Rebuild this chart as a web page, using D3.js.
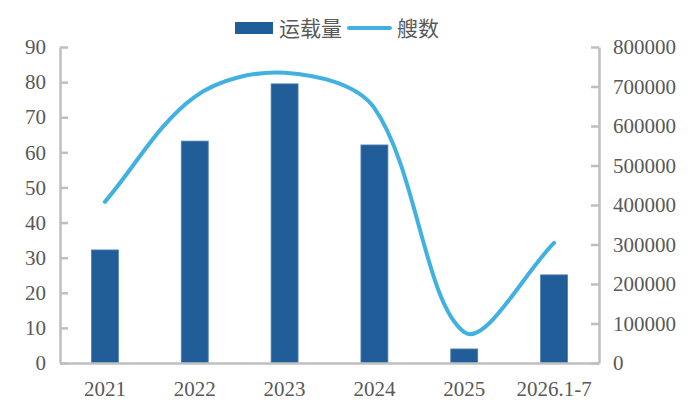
<!DOCTYPE html>
<html>
<head>
<meta charset="utf-8">
<script src="https://cdn.jsdelivr.net/npm/d3@7"></script>
<style>
  body { margin: 0; background: #fff; }
  .tick text { font-family: "Liberation Serif", "Times New Roman", serif; font-size: 21px; fill: #595959; }
  .axis path.domain { stroke: #bfbfbf; stroke-width: 2.5; }
  .axis .tick line { stroke: #bfbfbf; stroke-width: 2.5; }
  .legendText { font-family: "Noto Sans CJK SC", sans-serif; font-size: 21px; fill: #595959; }
</style>
</head>
<body>
<script>
// data
var years = ["2021", "2022", "2023", "2024", "2025", "2026.1-7"];
var volume = [32.2, 63.2, 79.5, 62.1, 4.0, 25.1];        // 运载量 (left axis)
var ships = [408000, 674000, 735000, 645000, 78000, 304000]; // 艘数 (right axis)
var leftTicks = [0, 10, 20, 30, 40, 50, 60, 70, 80, 90];
var rightTicks = [0, 100000, 200000, 300000, 400000, 500000, 600000, 700000, 800000];

var width = 700, height = 415;
var plotLeft = 60, plotRight = 599, plotTop = 47, plotBottom = 363;

var svg = d3.select("body").append("svg")
    .attr("width", width).attr("height", height);

var x = d3.scaleBand().domain(years).range([plotLeft, plotRight]).paddingInner(0.7).paddingOuter(0.35);
var yL = d3.scaleLinear().domain([0, 90]).range([plotBottom, plotTop]);
var yR = d3.scaleLinear().domain([0, 800000]).range([plotBottom, plotTop]);

// bars
svg.selectAll(".bar").data(volume).enter().append("rect")
    .classed("bar", true)
    .attr("x", function(d, i) { return x(years[i]); })
    .attr("y", function(d) { return yL(d); })
    .attr("width", x.bandwidth())
    .attr("height", function(d) { return plotBottom - yL(d); })
    .attr("fill", "#215e99")
    .attr("stroke", "#4d80b6")
    .attr("stroke-width", 0.8);

// axes
svg.append("g").classed("axis", true)
    .attr("transform", "translate(" + plotLeft + ",0)")
    .call(d3.axisLeft(yL).tickValues(leftTicks).tickSize(-8).tickSizeOuter(0).tickPadding(14));

svg.append("g").classed("axis", true)
    .attr("transform", "translate(" + plotRight + ",0)")
    .call(d3.axisRight(yR).tickValues(rightTicks).tickSize(-8).tickSizeOuter(0).tickPadding(14).tickFormat(d3.format("d")));

svg.append("g").classed("axis", true)
    .attr("transform", "translate(0," + plotBottom + ")")
    .call(d3.axisBottom(x).tickSize(0).tickSizeOuter(0).tickPadding(18));

// smooth line, excel style: handles scaled by neighbouring segment lengths
function smoothPath(pts) {
    var p = d3.path();
    var dist = function(a, b) { return Math.hypot(b[0] - a[0], b[1] - a[1]); };
    p.moveTo(pts[0][0], pts[0][1]);
    for (var i = 0; i < pts.length - 1; i++) {
        var p0 = pts[Math.max(i - 1, 0)], p1 = pts[i], p2 = pts[i + 1], p3 = pts[Math.min(i + 2, pts.length - 1)];
        var d01 = dist(p0, p1), d12 = dist(p1, p2), d23 = dist(p2, p3);
        var f1 = d12 / (d01 + d12) / 3;
        var f2 = d12 / (d12 + d23) / 3;
        p.bezierCurveTo(
            p1[0] + (p2[0] - p0[0]) * f1, p1[1] + (p2[1] - p0[1]) * f1,
            p2[0] - (p3[0] - p1[0]) * f2, p2[1] - (p3[1] - p1[1]) * f2,
            p2[0], p2[1]);
    }
    return p.toString();
}

var linePts = ships.map(function(d, i) { return [x(years[i]) + x.bandwidth() / 2, yR(d)]; });

svg.append("path")
    .attr("d", smoothPath(linePts))
    .attr("fill", "none")
    .attr("stroke", "#41b1e1")
    .attr("stroke-width", 4)
    .attr("stroke-linecap", "round");

// legend
var legend = svg.append("g");
legend.append("rect").attr("x", 235).attr("y", 22).attr("width", 38).attr("height", 12).attr("fill", "#215e99");
legend.append("text").classed("legendText", true).attr("x", 279).attr("y", 36).text("运载量");
legend.append("line").attr("x1", 349).attr("x2", 390).attr("y1", 28).attr("y2", 28)
    .attr("stroke", "#41b1e1").attr("stroke-width", 4).attr("stroke-linecap", "round");
legend.append("text").classed("legendText", true).attr("x", 397).attr("y", 36).text("艘数");
</script>
</body>
</html>
